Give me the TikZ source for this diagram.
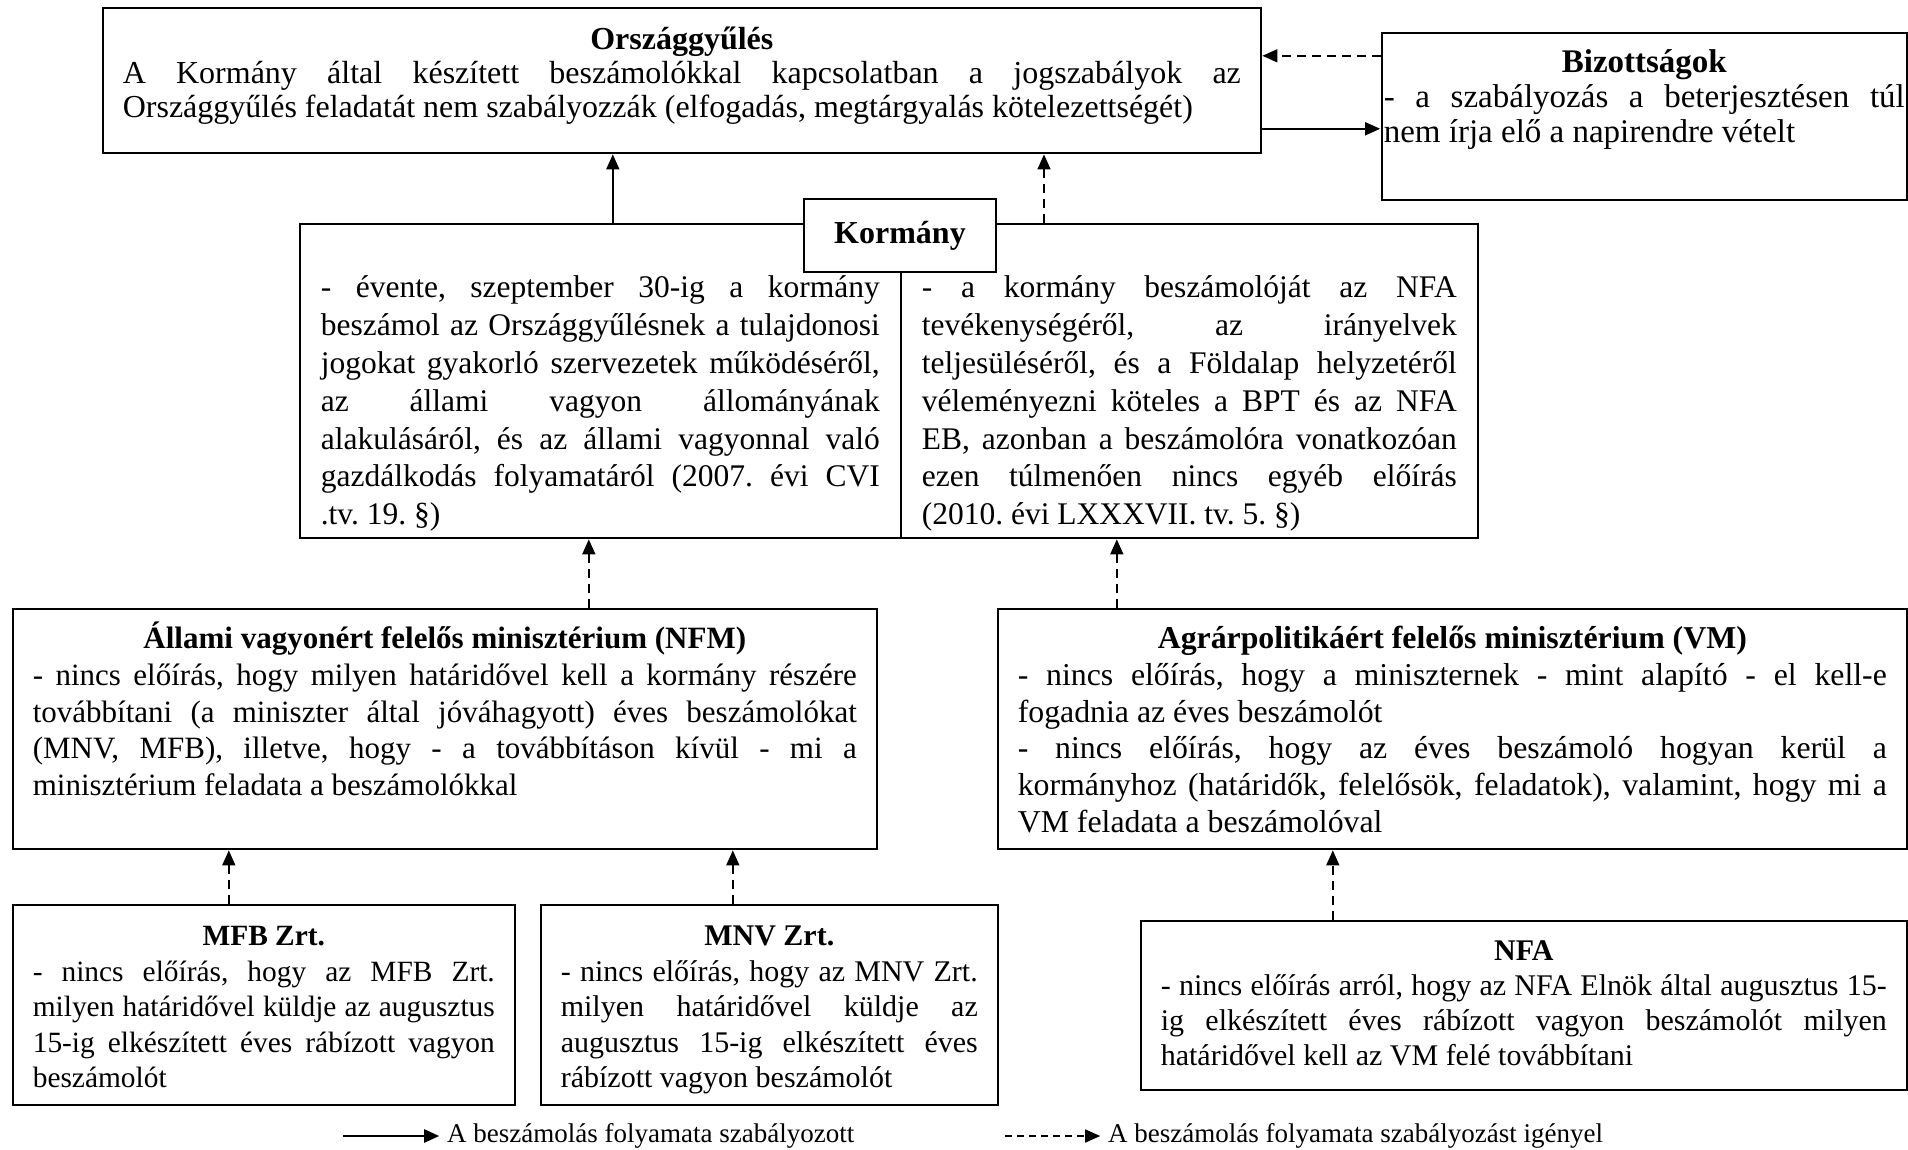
\documentclass[tikz,border=0pt]{standalone}
\usepackage{fontspec}
\setmainfont{Liberation Serif}
\usetikzlibrary{arrows.meta}

\newcommand{\hasab}[2]{\parbox[t]{#1}{\frenchspacing\tolerance=9999 \hyphenpenalty=10000 #2}}

\tikzset{
  betu/.style 2 args={font=\fontsize{#1}{#2}\selectfont},
  doboz/.style={draw, line width=1.6pt, anchor=north west, inner xsep=20pt, inner ysep=0pt,
    text height=40pt, betu={31.5}{36.7}},
  nyil/.style={line width=1.6pt, shorten >=0.8pt, -{Triangle[length=15pt,width=13pt]}},
  szaggatott/.style={nyil, dash pattern=on 9pt off 6pt},
  jelmagy/.style={anchor=west, inner xsep=7pt, inner ysep=0pt, font=\fontsize{27}{30}\selectfont},
}

\begin{document}
\begin{tikzpicture}[x=1pt, y=-1pt]
\fill[white] (0,0) rectangle (1908,1149);

% felso sor
\node[doboz, betu={32}{34}, text height=42pt, text depth=103pt] (orszag) at (102,7)
 {\hasab{1118pt}{{\centering\textbf{Országgyűlés}\par}A Kormány által készített beszámolókkal kapcsolatban a jogszabályok az\linebreak
  Országgyűlés feladatát nem szabályozzák (elfogadás, megtárgyalás kötelezettségét)}};
\node[doboz, betu={33}{35}, inner xsep=2pt, text depth=127pt] (biz) at (1381,32)
 {\hasab{521pt}{{\centering\textbf{Bizottságok}\par}- a szabályozás a beterjesztésen túl\linebreak
  nem írja elő a napirendre vételt}};

% kormany
\node[doboz, betu={31.5}{37.8}, inner xsep=21pt, text height=74pt, text depth=240pt] (kormbal) at (299,223)
 {\hasab{559pt}{- évente, szeptember 30-ig a kormány\linebreak
  beszámol az Országgyűlésnek a tulajdonosi\linebreak
  jogokat gyakorló szervezetek működéséről,\linebreak
  az állami vagyon állományának\linebreak
  alakulásáról, és az állami vagyonnal való\linebreak
  gazdálkodás folyamatáról (2007. évi CVI\linebreak
  .tv. 19. §)}};
\node[doboz, betu={31.5}{37.8}, inner xsep=21pt, text height=74pt, text depth=240pt] (kormjobb) at (900,223)
 {\hasab{535pt}{- a kormány beszámolóját az NFA\linebreak
  tevékenységéről, az irányelvek\linebreak
  teljesüléséről, és a Földalap helyzetéről\linebreak
  véleményezni köteles a BPT és az NFA\linebreak
  EB, azonban a beszámolóra vonatkozóan\linebreak
  ezen túlmenően nincs egyéb előírás\linebreak
  (2010. évi LXXXVII. tv. 5. §)}};
\node[draw, line width=1.6pt, fill=white, minimum width=192pt, minimum height=73pt, inner sep=0pt,
  font=\fontsize{32}{36}\selectfont\bfseries] (kormanycim) at (900,235.5) {Kormány};

% miniszteriumok
\node[doboz, betu={31}{36.7}, text depth=200pt] (nfm) at (12,608)
 {\hasab{824pt}{{\centering\textbf{Állami vagyonért felelős minisztérium (NFM)}\par}- nincs előírás, hogy milyen határidővel kell a kormány részére\linebreak
  továbbítani (a miniszter által jóváhagyott) éves beszámolókat\linebreak
  (MNV, MFB), illetve, hogy - a továbbításon kívül - mi a\linebreak
  minisztérium feladata a beszámolókkal}};
\node[doboz, betu={31.8}{36.7}, text depth=200pt] (vm) at (997,608)
 {\hasab{869pt}{{\centering\textbf{Agrárpolitikáért felelős minisztérium (VM)}\par}- nincs előírás, hogy a miniszternek - mint alapító - el kell-e\linebreak
  fogadnia az éves beszámolót\par
  - nincs előírás, hogy az éves beszámoló hogyan kerül a\linebreak
  kormányhoz (határidők, felelősök, feladatok), valamint, hogy mi a\linebreak
  VM feladata a beszámolóval}};

% also sor
\node[doboz, betu={29.4}{35.5}, text height=41pt, text depth=159pt] (mfb) at (12,904)
 {\hasab{462pt}{{\centering\textbf{MFB Zrt.}\par}- nincs előírás, hogy az MFB Zrt.\linebreak
  milyen határidővel küldje az augusztus\linebreak
  15-ig elkészített éves rábízott vagyon\linebreak
  beszámolót}};
\node[doboz, betu={30}{35.5}, text height=41pt, text depth=159pt] (mnv) at (540,904)
 {\hasab{417pt}{{\centering\textbf{MNV Zrt.}\par}- nincs előírás, hogy az MNV Zrt.\linebreak
  milyen határidővel küldje az\linebreak
  augusztus 15-ig elkészített éves\linebreak
  rábízott vagyon beszámolót}};
\node[doboz, betu={30}{35}, text depth=129pt] (nfa) at (1140,920)
 {\hasab{726pt}{{\centering\textbf{NFA}\par}- nincs előírás arról, hogy az NFA Elnök által augusztus 15-\linebreak
  ig elkészített éves rábízott vagyon beszámolót milyen\linebreak
  határidővel kell az VM felé továbbítani}};

% nyilak
\draw[nyil] ([yshift=-48.5pt]orszag.east) -- ([yshift=-48.5pt]orszag.east -| biz.west);
\draw[szaggatott] ([yshift=24.5pt]orszag.east -| biz.west) -- ([yshift=24.5pt]orszag.east);
\draw[nyil] ([xshift=12.5pt]kormbal.north) -- ([xshift=12.5pt]kormbal.north |- orszag.south);
\draw[szaggatott] ([xshift=144pt]kormanycim.center |- kormjobb.north) -- ([xshift=144pt]kormanycim.center |- orszag.south);
\draw[szaggatott] ([xshift=144pt]nfm.north) -- ([xshift=144pt]nfm.north |- kormbal.south);
\draw[szaggatott] ([xshift=-335.5pt]vm.north) -- ([xshift=-335.5pt]vm.north |- kormjobb.south);
\draw[szaggatott] ([xshift=-35pt]mfb.north) -- ([xshift=-35pt]mfb.north |- nfm.south);
\draw[szaggatott] ([xshift=-36.5pt]mnv.north) -- ([xshift=-36.5pt]mnv.north |- nfm.south);
\draw[szaggatott] ([xshift=-191pt]nfa.north) -- ([xshift=-191pt]nfa.north |- vm.south);

% jelmagyarazat
\coordinate (jel1) at (343,1136);
\node[jelmagy] (jel1szoveg) at (440,1136) {A beszámolás folyamata szabályozott};
\draw[nyil, line width=2.4pt] (jel1) -- (jel1szoveg.west);
\coordinate (jel2) at (1005,1136);
\node[jelmagy] (jel2szoveg) at (1101,1136) {A beszámolás folyamata szabályozást igényel};
\draw[szaggatott, dash pattern=on 7pt off 5pt] (jel2) -- (jel2szoveg.west);
\end{tikzpicture}
\end{document}
